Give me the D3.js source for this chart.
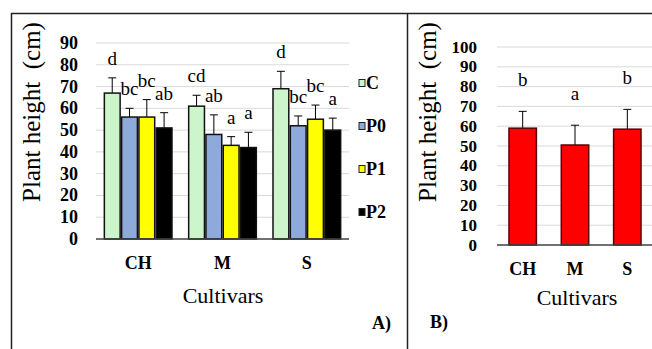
<!DOCTYPE html>
<html lang="en">
  <head>
    <meta charset="utf-8">
    <title>Plant height</title>
    <script src="https://cdnjs.cloudflare.com/ajax/libs/d3/7.8.5/d3.min.js"></script>
    <style type="text/css">
      body { margin: 0; background: #fff; }
      svg text { font-family: 'Liberation Serif'; }
    </style>
  </head>
  <body>
    <script type="text/javascript">
    // data
    var cultivars = ["CH", "M", "S"];
    var treatments = ["C", "P0", "P1", "P2"];
    var colors = ["#ccf5cc", "#8eaadb", "#ffff00", "#000000"];
    // panel A means, per cultivar, per treatment
    var heightA = [[67, 56, 56, 51], [61, 48, 43, 42], [69, 52, 55, 50]];
    var errA = [[7, 4, 8, 7], [5, 9, 4, 7], [8, 4.5, 6.5, 5.5]];
    var lettersA = [["d", "bc", "bc", "ab"], ["cd", "ab", "a", "a"], ["d", "bc", "bc", "a"]];
    var ticksA = [0, 10, 20, 30, 40, 50, 60, 70, 80, 90];
    // panel B means per cultivar
    var heightB = [59, 50.5, 58.5];
    var errB = [8.5, 10, 10];
    var lettersB = ["b", "a", "b"];
    var ticksB = [0, 10, 20, 30, 40, 50, 60, 70, 80, 90, 100];

    var w = 652, h = 349;
    var svg = d3.select("body").append("svg")
      .attr("width", w)
      .attr("height", h)
      .attr("font-family", "Liberation Serif");

    // frames
    svg.append("path").attr("d", "M11.5,360V13.5H407.5V360M407.5,13.5H660")
      .attr("fill", "none").attr("stroke", "#222").attr("stroke-width", 1.5);

    // ---------- panel A ----------
    var yA = d3.scaleLinear().domain([0, 90]).range([239, 43]);
    var xA = d3.scaleBand().domain(cultivars).range([96, 349]).paddingInner(0.18).paddingOuter(0.09);
    var xInA = d3.scaleBand().domain(treatments).range([0, xA.bandwidth()]);

    var gA = svg.append("g");
    gA.selectAll("line.grid").data(ticksA.slice(1)).enter().append("line")
      .attr("x1", 96).attr("x2", 349)
      .attr("y1", function(d) { return yA(d); })
      .attr("y2", function(d) { return yA(d); })
      .attr("stroke", "#d9d9d9").attr("stroke-width", 1);

    gA.selectAll("text.tick").data(ticksA).enter().append("text")
      .attr("x", 78)
      .attr("y", function(d) { return yA(d) + 6; })
      .attr("text-anchor", "end")
      .attr("font-weight", "bold").attr("font-size", "18px")
      .text(function(d) { return d; });

    var groups = gA.selectAll("g.grp").data(cultivars).enter().append("g")
      .attr("transform", function(d) { return "translate(" + xA(d) + ",0)"; });

    groups.each(function(c, ci) {
      var g = d3.select(this);
      treatments.forEach(function(t, ti) {
        var v = heightA[ci][ti], e = errA[ci][ti];
        var x0 = xInA(t), bw = xInA.bandwidth();
        var cx = x0 + bw / 2;
        g.append("line").attr("x1", cx).attr("x2", cx)
          .attr("y1", yA(v)).attr("y2", yA(v + e))
          .attr("stroke", "#000").attr("stroke-width", 1);
        g.append("line").attr("x1", cx - 4).attr("x2", cx + 4)
          .attr("y1", yA(v + e)).attr("y2", yA(v + e))
          .attr("stroke", "#000").attr("stroke-width", 1);
        g.append("rect")
          .attr("x", x0 + 0.75).attr("y", yA(v))
          .attr("width", bw - 1.5).attr("height", yA(0) - yA(v))
          .attr("fill", colors[ti]).attr("stroke", "#111").attr("stroke-width", 1.5);
        g.append("text").attr("x", cx).attr("y", yA(v + e) - 13)
          .attr("text-anchor", "middle").attr("font-size", "19px")
          .text(lettersA[ci][ti]);
      });
    });

    gA.append("line").attr("x1", 96).attr("x2", 349).attr("y1", 239).attr("y2", 239)
      .attr("stroke", "#404040").attr("stroke-width", 1.5);

    gA.selectAll("text.cat").data(cultivars).enter().append("text")
      .attr("x", function(d) { return xA(d) + xA.bandwidth() / 2; })
      .attr("y", 269)
      .attr("text-anchor", "middle").attr("font-weight", "bold").attr("font-size", "18px")
      .text(function(d) { return d; });

    gA.append("text").attr("x", 223).attr("y", 303).attr("text-anchor", "middle")
      .attr("font-size", "22px").text("Cultivars");
    gA.append("text").attr("transform", "translate(40,112) rotate(-90)")
      .attr("text-anchor", "middle").attr("font-size", "25px")
      .attr("xml:space", "preserve").text("Plant height  (cm)");
    gA.append("text").attr("x", 391).attr("y", 329).attr("text-anchor", "end")
      .attr("font-weight", "bold").attr("font-size", "18px").text("A)");

    // legend
    var leg = gA.selectAll("g.leg").data(treatments).enter().append("g")
      .attr("transform", function(d, i) { return "translate(359," + (83 + i * 43) + ")"; });
    leg.append("rect").attr("x", 0).attr("y", -3.5).attr("width", 6).attr("height", 7)
      .attr("fill", function(d, i) { return colors[i]; })
      .attr("stroke", "#222").attr("stroke-width", 1);
    leg.append("text").attr("x", 7).attr("y", 6)
      .attr("font-weight", "bold").attr("font-size", "18px")
      .text(function(d) { return d; });

    // ---------- panel B ----------
    var yB = d3.scaleLinear().domain([0, 100]).range([245, 47]);
    var xB = d3.scaleBand().domain(cultivars).range([497, 653]).paddingInner(0.476).paddingOuter(0.229);

    var gB = svg.append("g");
    gB.selectAll("line.grid").data(ticksB.slice(1)).enter().append("line")
      .attr("x1", 497).attr("x2", 652)
      .attr("y1", function(d) { return yB(d); })
      .attr("y2", function(d) { return yB(d); })
      .attr("stroke", "#d9d9d9").attr("stroke-width", 1);

    gB.selectAll("text.tick").data(ticksB).enter().append("text")
      .attr("x", 477)
      .attr("y", function(d) { return yB(d) + 5.5; })
      .attr("text-anchor", "end")
      .attr("font-weight", "bold").attr("font-size", "17px")
      .text(function(d) { return d; });

    cultivars.forEach(function(c, i) {
      var v = heightB[i], e = errB[i];
      var cx = xB(c) + xB.bandwidth() / 2;
      gB.append("line").attr("x1", cx).attr("x2", cx)
        .attr("y1", yB(v)).attr("y2", yB(v + e))
        .attr("stroke", "#000").attr("stroke-width", 1);
      gB.append("line").attr("x1", cx - 4).attr("x2", cx + 4)
        .attr("y1", yB(v + e)).attr("y2", yB(v + e))
        .attr("stroke", "#000").attr("stroke-width", 1);
      gB.append("rect")
        .attr("x", xB(c)).attr("y", yB(v))
        .attr("width", xB.bandwidth()).attr("height", yB(0) - yB(v))
        .attr("fill", "#ff0000").attr("stroke", "#5a0000").attr("stroke-width", 1.5);
      gB.append("text").attr("x", cx).attr("y", yB(v + e) - 25)
        .attr("text-anchor", "middle").attr("font-size", "19px")
        .text(lettersB[i]);
    });

    gB.append("line").attr("x1", 497).attr("x2", 652).attr("y1", 245).attr("y2", 245)
      .attr("stroke", "#404040").attr("stroke-width", 1.5);

    gB.selectAll("text.cat").data(cultivars).enter().append("text")
      .attr("x", function(d) { return xB(d) + xB.bandwidth() / 2; })
      .attr("y", 275)
      .attr("text-anchor", "middle").attr("font-weight", "bold").attr("font-size", "18px")
      .text(function(d) { return d; });

    gB.append("text").attr("x", 577).attr("y", 305).attr("text-anchor", "middle")
      .attr("font-size", "22px").text("Cultivars");
    gB.append("text").attr("transform", "translate(436,112) rotate(-90)")
      .attr("text-anchor", "middle").attr("font-size", "25px")
      .attr("xml:space", "preserve").text("Plant height  (cm)");
    gB.append("text").attr("x", 430).attr("y", 328)
      .attr("font-weight", "bold").attr("font-size", "18px").text("B)");

    // serif everywhere, one family name only
    svg.selectAll("text")
      .attr("font-family", "Liberation Serif")
      .style("font-family", "'Liberation Serif'");
    </script>
  </body>
</html>
